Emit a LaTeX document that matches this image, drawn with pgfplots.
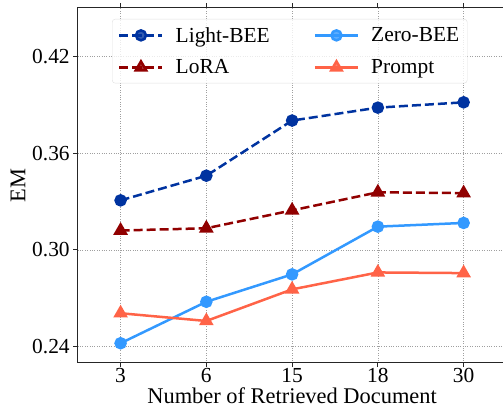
\documentclass[border=0pt]{standalone}
\usepackage{fontspec}
\setmainfont{Liberation Serif}
\usepackage{pgfplots}
\pgfplotsset{compat=1.18}
\definecolor{cLight}{RGB}{0,51,160}
\definecolor{cLoRA}{RGB}{145,0,0}
\definecolor{cZero}{RGB}{51,153,255}
\definecolor{cPrompt}{RGB}{255,99,71}
\newcommand{\bigf}{\fontsize{21.5}{25}\selectfont}
\newcommand{\labf}{\fontsize{22.5}{26}\selectfont}
\begin{document}
\begin{tikzpicture}
\begin{axis}[
  name=ax,
  scale only axis,
  width=428.75bp, height=354.7bp,
  xmin=-0.5, xmax=4.5,
  ymin=0.23, ymax=0.45,
  xtick={0,1,2,3,4},
  xticklabels={3,6,15,18,30},
  ytick={0.24,0.30,0.36,0.42},
  yticklabel style={/pgf/number format/.cd,fixed,fixed zerofill,precision=2},
  /pgf/number format/assume math mode=true,
  tick label style={font=\bigf},
  xticklabel style={inner ysep=1.5bp, yshift=1bp},
  label style={font=\labf},
  xlabel={Number of Retrieved Document},
  ylabel={EM},
  tick align=outside,
  major tick length=4.5bp,
  tick style={black!85, line width=0.8bp},
  axis line style={black!85, line width=1bp},
  grid=major,
  major grid style={gray!75, dotted, line width=0.7bp},
  xlabel style={inner ysep=1.5bp, yshift=-2bp},
  legend columns=2,
  legend cell align=left,
  legend style={at={(0.08,0.969)}, anchor=north west, font=\bigf,
    draw=gray!25, rounded corners=3bp, fill=white, fill opacity=0.8, text opacity=1,
    inner xsep=6bp, inner ysep=6bp,
    /tikz/every odd column/.append style={column sep=10bp},
    /tikz/every even column/.append style={column sep=42bp},
    row sep=12bp},
  legend image code/.code={\draw[mark repeat=2,mark phase=2] plot coordinates {(0bp,0bp) (21.5bp,0bp) (43bp,0bp)};},
]
\addplot[cLight, line width=2.5bp, dash pattern=on 9bp off 4bp, mark=*, mark size=5bp, mark options={solid}]
  coordinates {(0,0.3307) (1,0.3460) (2,0.3802) (3,0.3882) (4,0.3915)};
\addlegendentry{Light-BEE}
\addplot[cZero, line width=2.5bp, mark=*, mark size=5bp]
  coordinates {(0,0.2421) (1,0.2678) (2,0.2848) (3,0.3144) (4,0.3167)};
\addlegendentry{Zero-BEE}
\addplot[cLoRA, line width=2.5bp, dash pattern=on 9bp off 4bp, mark=triangle*, mark size=6bp, mark options={solid}]
  coordinates {(0,0.3120) (1,0.3134) (2,0.3245) (3,0.3357) (4,0.3352)};
\addlegendentry{LoRA}
\addplot[cPrompt, line width=2.5bp, mark=triangle*, mark size=6bp]
  coordinates {(0,0.2607) (1,0.2559) (2,0.2755) (3,0.2860) (4,0.2856)};
\addlegendentry{Prompt}
\end{axis}
\pgfresetboundingbox
\path ([xshift=-77.7bp,yshift=-47.3bp]ax.south west) rectangle ([xshift=-3.5bp,yshift=8bp]ax.north east);
\end{tikzpicture}
\end{document}
